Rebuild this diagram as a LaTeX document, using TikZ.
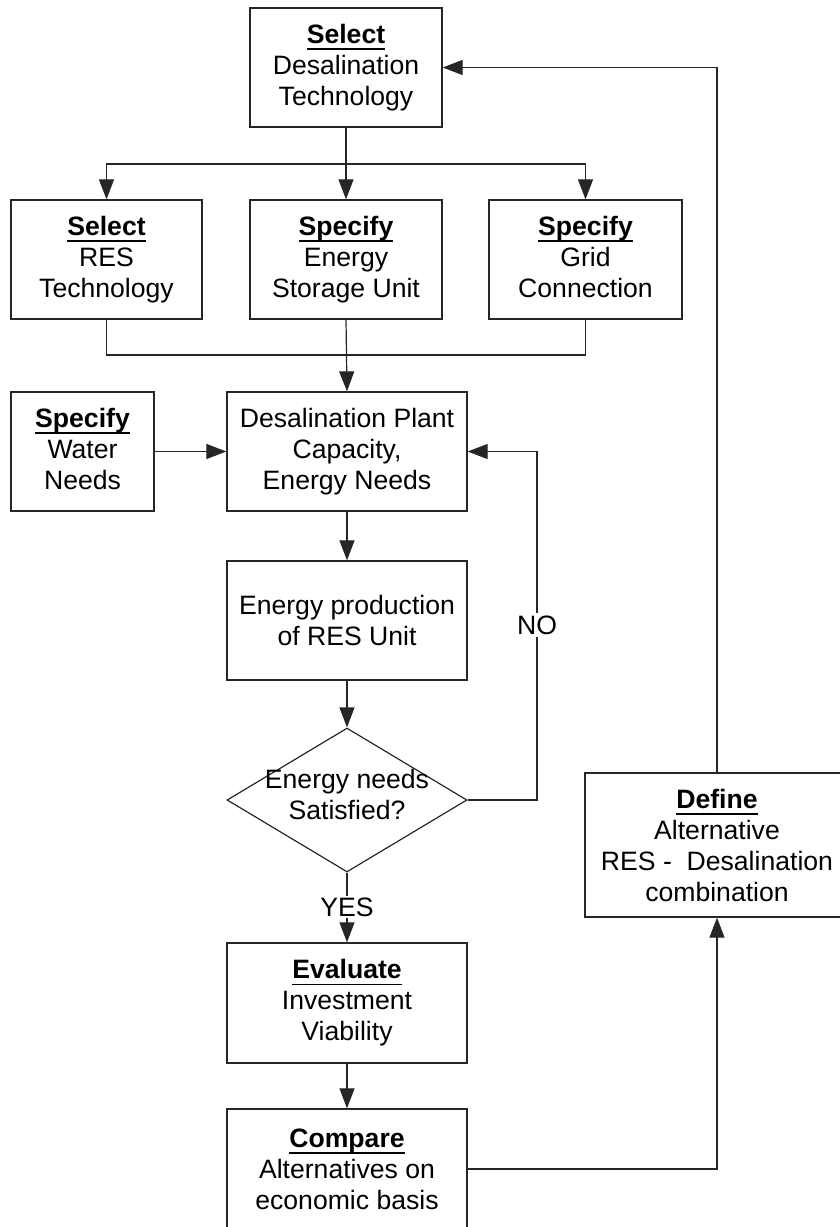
\documentclass[tikz,border=0pt]{standalone}
\usepackage{fontspec}
\setmainfont{Liberation Sans}
\usetikzlibrary{arrows.meta,shapes.geometric}
\newcommand\ulbold[1]{\setbox0\hbox{\bfseries #1}\rlap{\rule[-6.5pt]{\wd0}{1.8pt}}\box0}
\newcommand\descph{\vphantom{gy}}
\begin{document}
\begin{tikzpicture}[x=1pt,y=-1pt,
  txt/.style={font=\fontsize{26.6}{31}\selectfont, align=center, text=black},
  box/.style={txt, draw=black!85, line width=1.3pt, rectangle, inner sep=0pt},
  arr/.style={line width=1.2pt, draw=black!85, -{Triangle[length=20pt,width=15pt]}},
  ln/.style={line width=1.2pt, draw=black!85},
  lab/.style={txt, fill=white, inner sep=3pt}]
\useasboundingbox (0,0) rectangle (840,1227);
\clip (0,0) rectangle (840,1227);

\node[box, minimum width=192pt, minimum height=119pt] (top) at (346,67.5)
  {\ulbold{Select}\\Desalination\\Technology};
\node[box, minimum width=191pt, minimum height=119pt] (res) at (106.5,259.5)
  {\ulbold{Select}\\RES\\Technology};
\node[box, minimum width=192pt, minimum height=119pt] (stor) at (346,259.5)
  {\ulbold{Specify}\\Energy\\Storage Unit};
\node[box, minimum width=193pt, minimum height=119pt] (grid) at (585.5,259.5)
  {\ulbold{Specify}\\Grid\\Connection\descph};
\node[box, minimum width=143pt, minimum height=119pt] (water) at (82.5,451.5)
  {\ulbold{Specify}\\Water\\Needs\descph};
\node[box, minimum width=240pt, minimum height=119pt] (desal) at (347,451.5)
  {Desalination Plant\\Capacity,\\Energy Needs};
\node[box, minimum width=240pt, minimum height=119pt] (prod) at (347,620.5)
  {Energy production\\of RES Unit};
\node[draw=black!85, line width=1.2pt, diamond, minimum width=240pt, minimum height=144pt, inner sep=0pt] (dia) at (347,800) {};
\node[txt, inner sep=0pt] (diatxt) at (347,797) {Energy needs\\Satisfied?\descph};
\node[box, minimum width=240pt, minimum height=120pt] (eval) at (347,1003)
  {\ulbold{Evaluate}\\Investment\\Viability};
\node[box, minimum width=240pt, minimum height=120pt] (comp) at (347,1169)
  {\ulbold{Compare}\\Alternatives on\\economic basis};
\node[box, minimum width=264pt, minimum height=144pt] (define) at (717,845)
  {\ulbold{Define}\\Alternative\\RES -\ \ Desalination\\combination};

\coordinate (split) at (346,164);
\coordinate (join) at (346,355);
\coordinate (nox) at (537,0);

% distribution from top box
\draw[ln] (top.south) -- (split);
\draw[arr] (split) -- (stor.north);
\draw[arr] (split) -| (res.north);
\draw[arr] (split) -| (grid.north);
% collection into desalination box
\draw[ln] (res.south) |- (join);
\draw[ln] (grid.south) |- (join);
\draw[arr] (stor.south) -- (desal.north);
\draw[arr] (water.east) -- (desal.west);
\draw[arr] (desal.south) -- (prod.north);
\draw[arr] (prod.south) -- (dia.north);
\draw[arr] (dia.east) -| (nox |- desal.east) -- (desal.east);
\draw[arr] (dia.south) -- (eval.north);
\draw[arr] (eval.south) -- (comp.north);
\draw[arr] (comp.east) -| (define.south);
\draw[arr] (define.north) |- (top.east);

\node[lab] (no) at (537,625) {NO};
\node[lab, inner sep=2pt] (yes) at (347,907) {YES};
\end{tikzpicture}
\end{document}
